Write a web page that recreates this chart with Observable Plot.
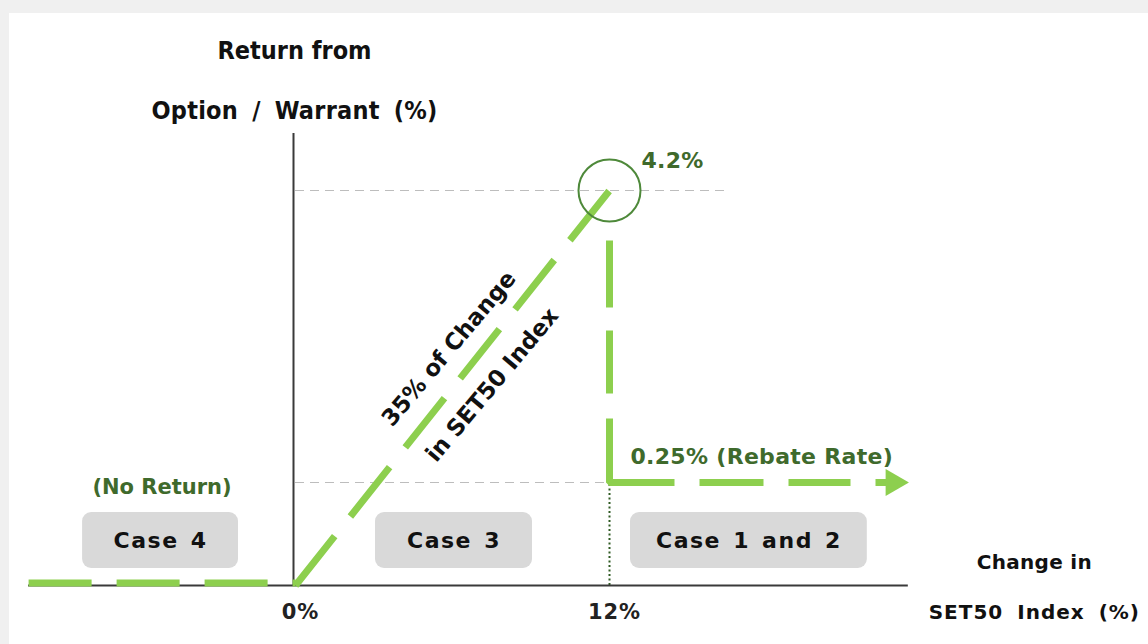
<!DOCTYPE html>
<html>
<head>
<meta charset="utf-8">
<script src="https://cdn.jsdelivr.net/npm/d3@7"></script>
<script src="https://cdn.jsdelivr.net/npm/@observablehq/plot@0.6"></script>
<style>
  html, body { margin: 0; padding: 0; background: #f0f0f0; }
  #panel { position: absolute; left: 9px; top: 13px; width: 1139px; height: 631px; background: #fff; overflow: hidden; }
  #panel svg { display: block; background: transparent; }
</style>
</head>
<body>
<div id="panel"></div>
<script>
// ---------- data ----------
// Change in SET50 index (%) and return from the option / warrant (%)
const payoffX = [-10.2, 0, 12, 12, 22.85];
const payoffY = [0, 0, 4.2, 0.25, 0.25];
const peakReturn = 4.2;
const rebateRate = 0.25;
const capLevel = 12;
const xTicks = [0, 12];
const xTickLabels = ["0%", "12%"];
const levelLabels = ["4.2%", "0.25% (Rebate Rate)"];
const caseNames = ["Case 4", "Case 3", "Case 1 and 2"];
const caseFrom = [-10.2, 0, 12];
const caseTo = [0, 12, 23.42];
const noReturnLabel = "(No Return)";
const slopeLabels = ["35% of Change", "in SET50 Index"];
const yTitle = ["Return from", "Option / Warrant (%)"];
const xTitle = ["Change in", "SET50 Index (%)"];
const axisXStart = -10.2, axisXEnd = 23.42, axisYEnd = 4.97, guideEnd = 16.55;

// ---------- layout / style ----------
const green = "#8dcf4e";
const darkGreen = "#3f6a2c";
const caseInsets = [[54, 57], [80, 77], [21, 41]];
// the diagram is not drawn to scale: the return axis is stretched piecewise
const yWarp = d3.scaleLinear().domain([0, rebateRate, peakReturn]).range([0, 103, 395]);

const pts = payoffX.map((x, i) => ({x, y: payoffY[i]}));
const leftSeg = pts.slice(0, 2);
const diagSeg = pts.slice(1, 3);
const ellSeg = pts.slice(2, 5);

const boxMarks = caseNames.map((name, i) =>
  Plot.rect([name], {
    x1: caseFrom[i], x2: caseTo[i], y1: 0, y2: rebateRate,
    insetLeft: caseInsets[i][0], insetRight: caseInsets[i][1],
    insetTop: 30, insetBottom: 17, rx: 9, fill: "#d9d9d9"
  })
);
const boxText = caseNames.map((name, i) =>
  Plot.text([name], {
    x: (caseFrom[i] + caseTo[i]) / 2, y: 0, text: d => d,
    dx: (caseInsets[i][0] - caseInsets[i][1]) / 2, dy: -45,
    fontFamily: "DejaVu Sans", fontWeight: "bold", fontSize: 22, fill: "#111"
  })
);

const lineStyle = {x: "x", y: "y", stroke: green, strokeWidth: 7, strokeLinecap: "butt", strokeLinejoin: "miter"};
const y0px = 572;

const chart = Plot.plot({
  width: 1139,
  height: 631,
  marginTop: 0, marginRight: 0, marginBottom: 0, marginLeft: 0,
  x: {domain: [0, 12], range: [286, 600], axis: null},
  y: {type: "linear", transform: yWarp, domain: [0, yWarp(axisYEnd)], range: [y0px, y0px - yWarp(axisYEnd)], axis: null},
  style: {background: "transparent", overflow: "visible"},
  marks: [
    ...boxMarks,
    // guide lines
    Plot.ruleY([peakReturn], {x1: 0, x2: guideEnd, stroke: "#bdbdbd", strokeWidth: 1.2, strokeDasharray: "9,6"}),
    Plot.ruleY([rebateRate], {x1: 0, x2: capLevel, stroke: "#bdbdbd", strokeWidth: 1.2, strokeDasharray: "9,6"}),
    Plot.ruleX([capLevel], {y1: 0, y2: rebateRate, stroke: "#2f5a22", strokeWidth: 2, strokeDasharray: "2,2.5"}),
    // axes
    Plot.ruleY([0], {x1: axisXStart, x2: axisXEnd, stroke: "#3a3a3a", strokeWidth: 2}),
    Plot.ruleX([0], {y1: 0, y2: axisYEnd, dx: -2, stroke: "#3a3a3a", strokeWidth: 2}),
    // payoff
    Plot.line(leftSeg, {...lineStyle, strokeDasharray: "63,25", dy: -2.5}),
    Plot.line(diagSeg, {...lineStyle, strokeDasharray: "63,25.2"}),
    Plot.line(ellSeg, {...lineStyle, strokeDasharray: "0,50,67,23,63,25,129,25,64,25,62,25,100"}),
    Plot.dot([pts[4]], {x: "x", y: "y", symbol: "triangle", r: 10, rotate: 90, fill: green, stroke: null}),
    Plot.dot([pts[2]], {x: "x", y: "y", r: 31, fill: "none", stroke: "#4e893a", strokeWidth: 2}),
    // texts
    ...boxText,
    Plot.text([noReturnLabel], {x: (caseFrom[0] + caseTo[0]) / 2, y: 0, text: d => d, dy: -98,
      fontFamily: "DejaVu Sans", fontWeight: "bold", fontSize: 21, fill: darkGreen}),
    Plot.text([levelLabels[0]], {x: capLevel, y: peakReturn, text: d => d, dx: 63, dy: -30,
      fontFamily: "DejaVu Sans", fontWeight: "bold", fontSize: 22, fill: darkGreen}),
    Plot.text([levelLabels[1]], {x: capLevel, y: rebateRate, text: d => d, dx: 21, dy: -26, textAnchor: "start",
      fontFamily: "DejaVu Sans", fontWeight: "bold", fontSize: 22, fill: darkGreen}),
    Plot.text([slopeLabels.join("\n")], {x: 0, y: 0, text: d => d, dx: 167, dy: -225.5, rotate: -50,
      lineHeight: 2.45, fontFamily: "DejaVu Sans", fontWeight: "bold", fontSize: 23, fill: "#111"}),
    Plot.text(xTickLabels, {x: (d, i) => xTicks[i], y: 0, text: d => d, dx: 5, dy: 27,
      fontFamily: "DejaVu Sans", fontWeight: "bold", fontSize: 21, fill: "#222"}),
    Plot.text([yTitle.join("\n")], {x: 0, y: axisYEnd, text: d => d, dx: -1, dy: -64, lineHeight: 2.4,
      fontFamily: "DejaVu Sans Condensed", fontWeight: "bold", fontSize: 25, fill: "#111"}),
    Plot.text([xTitle.join("\n")], {x: axisXEnd, y: 0, text: d => d, dx: 126, dy: -8, lineHeight: 2.5,
      fontFamily: "DejaVu Sans", fontWeight: "bold", fontSize: 20, fill: "#111"})
  ]
});

// text spacing tweaks (applied to the rendered text nodes): [letter-spacing, word-spacing]
const spacing = new Map([
  ...caseNames.map(n => [n, ["1.5px", "3px"]]),
  [xTitle[0], ["0.3px", "0px"]],
  [xTitle[1], ["1px", "6px"]],
  [yTitle[1], ["0.25px", "6px"]],
  ...xTickLabels.map(n => [n, ["1px", "0px"]]),
  ...levelLabels.map(n => [n, ["0.3px", "0px"]])
]);
d3.select(chart).selectAll("text, tspan").each(function () {
  if (this.tagName === "text" && this.querySelector("tspan")) return;
  const s = spacing.get(this.textContent.trim());
  if (s) {
    this.style.letterSpacing = s[0];
    this.style.wordSpacing = s[1];
  }
});
document.getElementById("panel").appendChild(chart);
</script>
</body>
</html>
